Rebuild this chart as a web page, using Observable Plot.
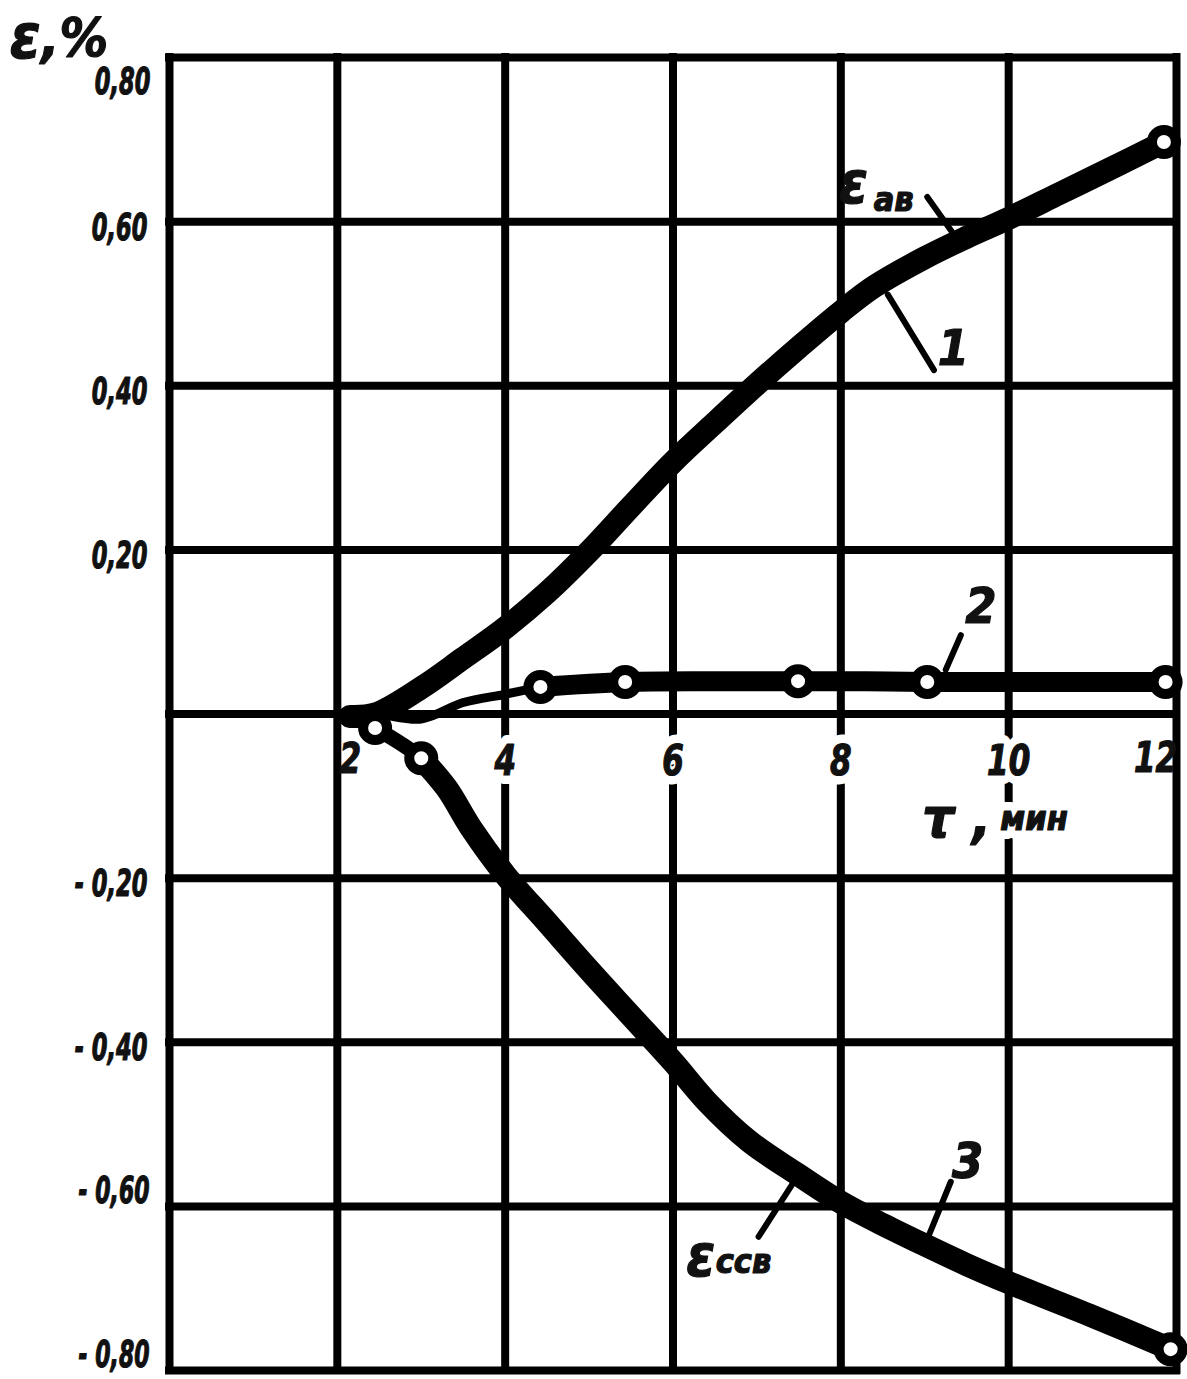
<!DOCTYPE html>
<html><head><meta charset="utf-8">
<script src="https://cdn.jsdelivr.net/npm/d3@7"></script>
<script src="https://cdn.jsdelivr.net/npm/@observablehq/plot@0.6"></script>
<style>html,body{margin:0;padding:0;background:#fff;} svg{display:block;}</style>
</head><body><div id="chart"></div>
<script>
// ---- grid / ticks ----
const xGrid = [0, 2, 4, 6, 8, 10, 12];
const yGrid = [-0.8, -0.6, -0.4, -0.2, 0, 0.2, 0.4, 0.6, 0.8];
const xTickMid = [4, 6, 8, 10];
const xTickMidLabels = ["4", "6", "8", "10"];
const xTickEdge = [2, 12];
const xTickEdgeLabels = ["2", "12"];
const yTickTop = [0.8];
const yTickTopLabels = ["0,80"];
const yTickMid = [0.6, 0.4, 0.2, -0.2, -0.4];
const yTickMidLabels = ["0,60", "0,40", "0,20", "- 0,20", "- 0,40"];
const yTickLow = [-0.6, -0.8];
const yTickLowLabels = ["- 0,60", "- 0,80"];

// ---- curve 1 (ε ав) ----
const t1 = [2.15, 2.45, 3.0, 3.5, 4.0, 4.5, 5.0, 5.5, 6.0, 6.5, 7.0, 7.5, 8.0, 8.4, 9.0, 9.5, 10.0, 10.6, 11.2, 11.85];
const e1 = [-0.003, 0.0, 0.032, 0.068, 0.105, 0.148, 0.198, 0.253, 0.307, 0.355, 0.402, 0.447, 0.49, 0.521, 0.556, 0.581, 0.604, 0.634, 0.664, 0.697];
const t1Pts = [11.85];
const e1Pts = [0.697];

// ---- curve 2 ----
const t2a = [2.15, 2.45, 3.0, 3.5, 4.0, 4.42];
const e2a = [-0.003, 0.0, -0.006, 0.014, 0.024, 0.033];
const t2b = [4.42, 5.43, 6.5, 7.49, 8.3, 9.03, 10.5, 11.87];
const e2b = [0.033, 0.039, 0.040, 0.040, 0.040, 0.039, 0.039, 0.039];
const t2Pts = [4.42, 5.43, 7.49, 9.03, 11.87];
const e2Pts = [0.033, 0.039, 0.040, 0.039, 0.039];

// ---- curve 3 (ε ссв) ----
const t3 = [2.45, 3.0, 3.3, 3.6, 4.0, 4.5, 5.0, 5.5, 6.0, 6.4, 6.9, 7.5, 8.0, 8.5, 9.0, 9.5, 10.0, 11.0, 11.93];
const e3 = [-0.017, -0.054, -0.09, -0.14, -0.196, -0.254, -0.312, -0.368, -0.424, -0.472, -0.52, -0.562, -0.595, -0.622, -0.647, -0.671, -0.693, -0.734, -0.774];
const t3Pts = [2.45, 3.0, 11.93];
const e3Pts = [-0.017, -0.054, -0.774];

// ---- annotations ----
const numLabels = ["1", "2", "3"];
const numT = [9.34, 9.67, 9.51];
const numE = [0.445, 0.130, -0.546];
const epsT = [8.15, 6.33];
const epsE = [0.645, -0.662];
const subLabels = ["ав", "ссв"];
const subT = [8.63, 6.84];
const subE = [0.626, -0.668];
const leaderId = ["a", "a", "1", "1", "2", "2", "3", "3", "b", "b"];
const leaderT = [9.03, 9.37, 8.56, 9.11, 9.43, 9.25, 9.31, 9.05, 7.44, 7.02];
const leaderE = [0.630, 0.581, 0.511, 0.419, 0.096, 0.054, -0.570, -0.635, -0.570, -0.637];
const axisTitleX = ["τ ,", "мин"];
const axisTitleXT = [8.97, 9.90];
const axisTitleXE = [-0.128, -0.128];
const axisTitleY = ["ε", ",%"];
const axisTitleYT = [-1.72, -1.53];
const axisTitleYE = [0.824, 0.823];

const zip = (xs, ys) => xs.map((x, i) => ({x, y: ys[i]}));
const FONT = "'DejaVu Sans Condensed','DejaVu Sans',sans-serif";
const txt = {fontFamily: FONT, fontWeight: "bold", fontStyle: "italic", fill: "#111", stroke: "#111", strokeWidth: 1.2, lineAnchor: "middle"};
const halo = {fill: "#fff", stroke: "#fff", strokeWidth: 18};

const xMidOpts = {x: d => d, y: 0, text: (d, i) => xTickMidLabels[i], dy: 48, fontSize: 42, ariaLabel: () => "xlab"};
const tauOpts = {x: () => axisTitleXT[0], y: () => axisTitleXE[0], text: () => axisTitleX[0], textAnchor: "start", fontSize: 56};
const minOpts = {x: () => axisTitleXT[1], y: () => axisTitleXE[1], text: () => axisTitleX[1], textAnchor: "start", fontSize: 34};

const plot = Plot.plot({
  width: 1187, height: 1379,
  marginLeft: 169, marginRight: 11, marginTop: 57, marginBottom: 9,
  x: {domain: [0, 12], axis: null},
  y: {domain: [-0.8, 0.8], axis: null},
  style: {background: "#fff"},
  marks: [
    Plot.ruleX(xGrid, {stroke: "#000", strokeWidth: 8, strokeLinecap: "square"}),
    Plot.ruleY(yGrid, {stroke: "#000", strokeWidth: 8, strokeLinecap: "square"}),
    // halos that break the grid lines behind labels
    Plot.text(xTickMid, {...xMidOpts, ...txt, ...halo}),
    Plot.text([0], {...tauOpts, ...txt, ...halo, strokeWidth: 12}),
    Plot.text([0], {...minOpts, ...txt, ...halo}),
    // x tick labels
    Plot.text(xTickMid, {...xMidOpts, ...txt}),
    Plot.text([xTickEdge[0]], {x: d => d, y: 0, text: () => xTickEdgeLabels[0], dx: 13, dy: 46, fontSize: 42, ...txt, ariaLabel: () => "xlab"}),
    Plot.text([xTickEdge[1]], {x: d => d, y: 0, text: () => xTickEdgeLabels[1], dx: -21, dy: 45, fontSize: 42, ...txt, ariaLabel: () => "xlab"}),
    // x axis title
    Plot.text([0], {...tauOpts, ...txt}),
    Plot.text([0], {...minOpts, ...txt}),
    // y tick labels
    Plot.text(yTickTop, {x: 0, y: d => d, text: (d, i) => yTickTopLabels[i], dx: -19, dy: 24, textAnchor: "end", fontSize: 38, ...txt, ariaLabel: () => "ylab"}),
    Plot.text(yTickMid, {x: 0, y: d => d, text: (d, i) => yTickMidLabels[i], dx: -22, dy: 6, textAnchor: "end", fontSize: 38, ...txt, ariaLabel: () => "ylab"}),
    Plot.text(yTickLow, {x: 0, y: d => d, text: (d, i) => yTickLowLabels[i], dx: -20, dy: -15, textAnchor: "end", fontSize: 37, ...txt, ariaLabel: () => "ylab"}),
    // y axis title
    Plot.text([0], {x: () => axisTitleYT[0], y: () => axisTitleYE[0], text: () => axisTitleY[0], textAnchor: "middle", fontSize: 62, ...txt}),
    Plot.text([0], {x: () => axisTitleYT[1], y: () => axisTitleYE[1], text: () => axisTitleY[1], textAnchor: "start", fontSize: 54, ...txt}),
    // curves
    Plot.line(zip(t2a, e2a), {x: "x", y: "y", stroke: "#000", strokeWidth: 9, curve: "catmull-rom", strokeLinecap: "round"}),
    Plot.line(zip(t2b, e2b), {x: "x", y: "y", stroke: "#000", strokeWidth: 20, curve: "catmull-rom", strokeLinecap: "round"}),
    Plot.line(zip(t1, e1), {x: "x", y: "y", stroke: "#000", strokeWidth: 23, curve: "catmull-rom", strokeLinecap: "round"}),
    Plot.line(zip(t3.slice(0, 3), e3.slice(0, 3)), {x: "x", y: "y", stroke: "#000", strokeWidth: 15, curve: "catmull-rom", strokeLinecap: "round"}),
    Plot.line(zip(t3.slice(1), e3.slice(1)), {x: "x", y: "y", stroke: "#000", strokeWidth: 23, curve: "catmull-rom", strokeLinecap: "round"}),
    // leader lines
    Plot.line(leaderT.map((x, i) => ({x, y: leaderE[i], id: leaderId[i]})), {x: "x", y: "y", z: "id", stroke: "#000", strokeWidth: 6, strokeLinecap: "round"}),
    // markers
    Plot.dot(zip(t1Pts, e1Pts), {x: "x", y: "y", r: 12, fill: "#fff", stroke: "#000", strokeWidth: 10}),
    Plot.dot(zip(t2Pts, e2Pts), {x: "x", y: "y", r: 12, fill: "#fff", stroke: "#000", strokeWidth: 10}),
    Plot.dot(zip(t3Pts, e3Pts), {x: "x", y: "y", r: 12, fill: "#fff", stroke: "#000", strokeWidth: 10}),
    // curve labels
    Plot.text(numLabels, {x: (d, i) => numT[i], y: (d, i) => numE[i], text: d => d, fontSize: 50, ...txt}),
    Plot.text(epsT, {x: d => d, y: (d, i) => epsE[i], text: () => "ε", fontSize: 58, ...txt}),
    Plot.text(subLabels, {x: (d, i) => subT[i], y: (d, i) => subE[i], text: d => d, fontSize: 34, ...txt})
  ]
});
// narrow the hand-lettered tick numerals horizontally
const squeeze = (label, k) => d3.select(plot).selectAll("text").filter(function () {
  return this.getAttribute("aria-label") === label;
}).each(function () {
  const t = this.getAttribute("transform");
  if (t) {
    this.setAttribute("transform", t + ` scale(${k},1)`);
  } else {
    const x = +this.getAttribute("x") || 0, y = +this.getAttribute("y") || 0;
    this.removeAttribute("x"); this.removeAttribute("y");
    this.setAttribute("transform", `translate(${x},${y}) scale(${k},1)`);
  }
});
squeeze("ylab", 0.66);
squeeze("xlab", 0.82);
document.getElementById("chart").append(plot);
</script></body></html>
